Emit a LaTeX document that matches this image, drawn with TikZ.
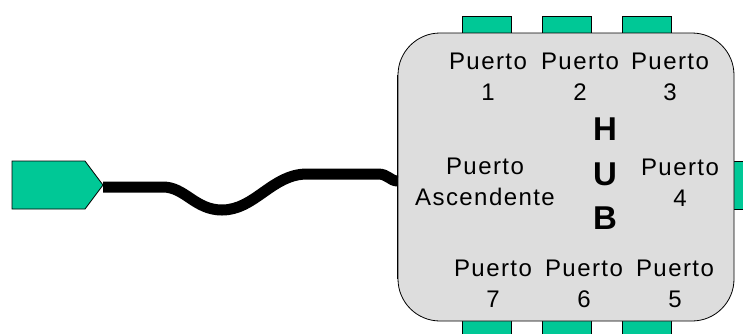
\documentclass[tikz,border=0pt]{standalone}
\usepackage{fontspec}
\setmainfont{Liberation Sans}
\usetikzlibrary{calc}
\definecolor{portgreen}{RGB}{0,200,150}
\definecolor{hubgray}{RGB}{221,221,221}
\newfontfamily\lblfont[LetterSpace=6]{Liberation Sans}
\begin{document}
\begin{tikzpicture}[x=1pt,y=-1pt,
  port/.style={draw=black, line width=0.8pt, fill=portgreen, inner sep=0pt, minimum width=49pt},
  lbl/.style={align=center, inner sep=0pt, font=\lblfont\fontsize{24}{31}\selectfont},
  hubletter/.style={inner sep=0pt, font=\fontsize{33}{33}\selectfont\bfseries},
  cable/.style={line width=11pt, line join=round, black}]
\clip (0,0) rectangle (743,333);
\fill[white] (0,0) rectangle (743,333);
% ports behind the hub
\node[port, minimum height=20pt] (p1) at (486.5,26) {};
\node[port, minimum height=20pt] (p2) at (566.5,26) {};
\node[port, minimum height=20pt] (p3) at (646.5,26) {};
\node[port, minimum height=22pt] (p7) at (486.5,329) {};
\node[port, minimum height=22pt] (p6) at (566.5,329) {};
\node[port, minimum height=22pt] (p5) at (646.5,329) {};
\node[port, minimum width=25pt, minimum height=48pt] (p4) at (742.5,185) {};
% plug
\draw[line width=0.8pt, fill=portgreen] (12,161) -- (85,161) -- (103,185) -- (85,209) -- (12,209) -- cycle;
\coordinate (plugtip) at (103,187);
% hub
\node[draw, line width=0.8pt, fill=hubgray, rounded corners=42pt, minimum width=336pt, minimum height=288pt, inner sep=0pt] (hub) at (566,177) {};
% cable
\draw[cable] (plugtip) -- (163,187) .. controls (185,187) and (195,210) .. (222,210)
  .. controls (255,210) and (272,174) .. (307,174) -- (378,174)
  .. controls (388,174) and (390,181) .. ($(hub.west)+(0,4)$);
\draw[line width=0.8pt] (hub.north west) ++(0,42) -- ($(hub.south west)+(0,-42)$);
% labels
\node[lbl] (l1) at (488,77) {Puerto\\1};
\node[lbl] (l2) at (580,77) {Puerto\\2};
\node[lbl] (l3) at (670,77) {Puerto\\3};
\node[lbl] (l7) at (493,284) {Puerto\\7};
\node[lbl] (l6) at (584,284) {Puerto\\6};
\node[lbl] (l5) at (675,284) {Puerto\\5};
\node[lbl] (lup) at (485,182) {Puerto\\Ascendente};
\node[lbl] (l4) at (680,183) {Puerto\\4};
\node[hubletter] (h) at (605,129) {H};
\node[hubletter] (u) at (605,174) {U};
\node[hubletter] (b) at (605,218) {B};
\end{tikzpicture}
\end{document}
